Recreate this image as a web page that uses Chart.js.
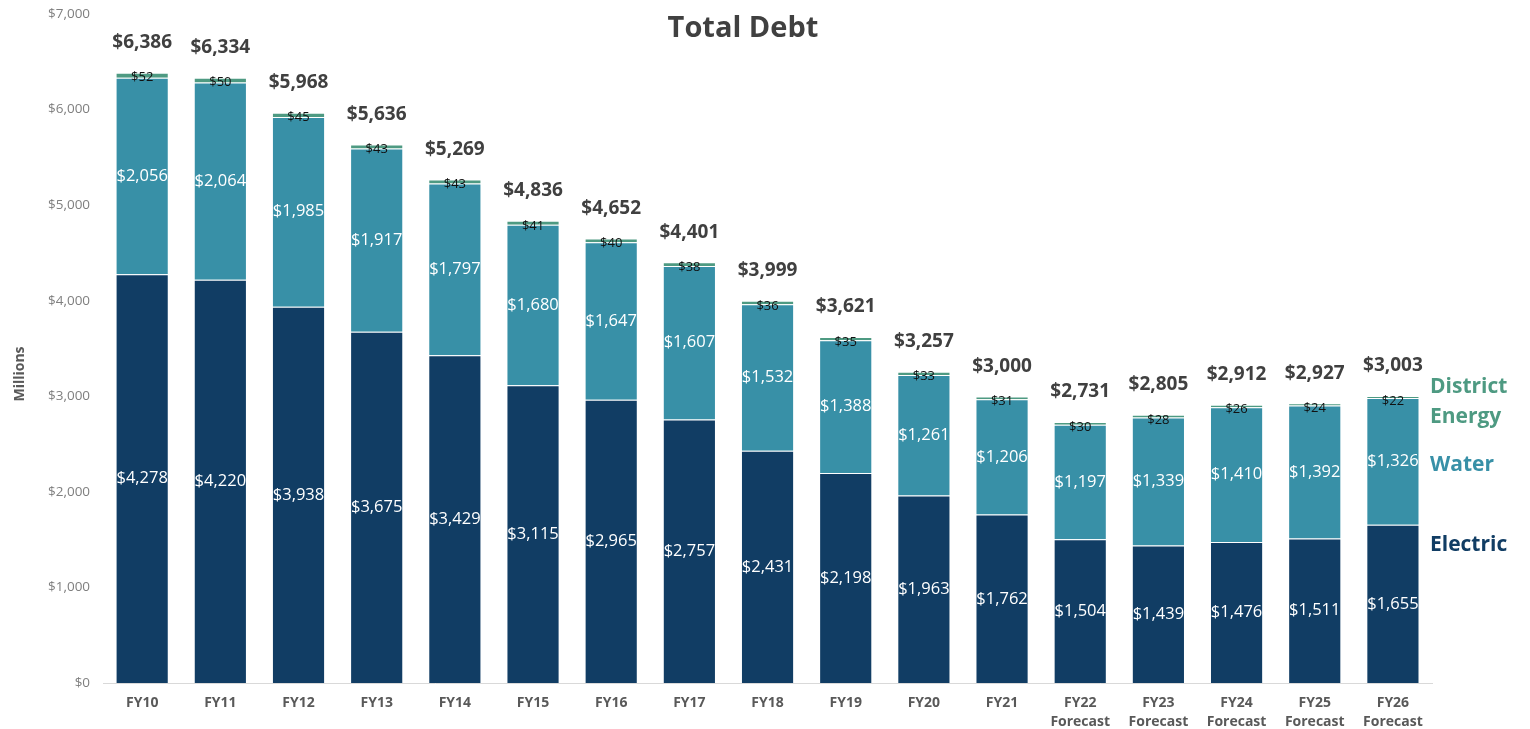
<!DOCTYPE html>
<html>
<head>
<meta charset="utf-8">
<script src="https://cdn.jsdelivr.net/npm/chart.js@4"></script>
<style>
  html, body { margin: 0; padding: 0; background: #fff; }
  #wrap { width: 1530px; height: 729px; }
</style>
</head>
<body>
<div id="wrap"><canvas id="debtChart" width="1530" height="729"></canvas></div>
<script>
var years = ['FY10', 'FY11', 'FY12', 'FY13', 'FY14', 'FY15', 'FY16', 'FY17', 'FY18', 'FY19', 'FY20', 'FY21',
  ['FY22', 'Forecast'], ['FY23', 'Forecast'], ['FY24', 'Forecast'], ['FY25', 'Forecast'], ['FY26', 'Forecast']];
var electric = [4278, 4220, 3938, 3675, 3429, 3115, 2965, 2757, 2431, 2198, 1963, 1762, 1504, 1439, 1476, 1511, 1655];
var water = [2056, 2064, 1985, 1917, 1797, 1680, 1647, 1607, 1532, 1388, 1261, 1206, 1197, 1339, 1410, 1392, 1326];
var districtEnergy = [52, 50, 45, 43, 43, 41, 40, 38, 36, 35, 33, 31, 30, 28, 26, 24, 22];
var totals = [6386, 6334, 5968, 5636, 5269, 4836, 4652, 4401, 3999, 3621, 3257, 3000, 2731, 2805, 2912, 2927, 3003];
var yTicks = [0, 1000, 2000, 3000, 4000, 5000, 6000, 7000];

var FONT = '"Open Sans", "DejaVu Sans", sans-serif';
var colElectric = '#113d64';
var colWater = '#3890a7';
var colDistrict = '#4e9a82';

function money(v) {
  return '$' + v.toLocaleString('en-US');
}

// draws the numbers on the bars, the totals, the title, axis title and the side legend
const labelPlugin = {
  id: 'labelPlugin',
  afterDatasetsDraw(chart) {
    const ctx = chart.ctx;
    ctx.save();
    ctx.textAlign = 'center';
    ctx.textBaseline = 'middle';

    [0, 1].forEach(function (di) {
      const meta = chart.getDatasetMeta(di);
      const vals = chart.data.datasets[di].data;
      ctx.fillStyle = '#ffffff';
      ctx.font = '16.5px ' + FONT;
      meta.data.forEach(function (bar, i) {
        ctx.fillText(money(vals[i]), bar.x, (bar.y + bar.base) / 2);
      });
    });

    const dMeta = chart.getDatasetMeta(2);
    ctx.fillStyle = '#111111';
    ctx.font = '13px ' + FONT;
    dMeta.data.forEach(function (bar, i) {
      ctx.fillText(money(districtEnergy[i]), bar.x, bar.y + 5);
    });

    ctx.fillStyle = '#404040';
    ctx.font = 'bold 19px ' + FONT;
    dMeta.data.forEach(function (bar, i) {
      ctx.fillText(money(totals[i]), bar.x, bar.y - 30);
    });

    ctx.font = 'bold 29px ' + FONT;
    ctx.fillText('Total Debt', 743, 29);

    // y axis title
    ctx.save();
    ctx.translate(20, 374);
    ctx.rotate(-Math.PI / 2);
    ctx.fillStyle = '#595959';
    ctx.font = 'bold 14px ' + FONT;
    ctx.fillText('Millions', 0, 0);
    ctx.restore();

    ctx.textAlign = 'left';
    ctx.font = 'bold 21px ' + FONT;
    ctx.fillStyle = colDistrict;
    ctx.fillText('District', 1430, 387);
    ctx.fillText('Energy', 1430, 417);
    ctx.fillStyle = colWater;
    ctx.fillText('Water', 1430, 465);
    ctx.fillStyle = colElectric;
    ctx.fillText('Electric', 1430, 545);
    ctx.restore();
  }
};

const ctx = document.getElementById('debtChart').getContext('2d');
const chartDebt = new Chart(ctx, {
  type: 'bar',
  data: {
    labels: years,
    datasets: [{
      label: 'Electric',
      data: electric,
      backgroundColor: colElectric,
      borderColor: 'rgba(255,255,255,0.3)',
      borderWidth: 1
    }, {
      label: 'Water',
      data: water,
      backgroundColor: colWater,
      borderColor: 'rgba(255,255,255,0.3)',
      borderWidth: 1
    }, {
      label: 'District Energy',
      data: districtEnergy,
      backgroundColor: colDistrict,
      borderColor: 'rgba(255,255,255,0.3)',
      borderWidth: 1
    }]
  },
  options: {
    responsive: false,
    animation: false,
    categoryPercentage: 1,
    barPercentage: 0.68,
    layout: { padding: { top: 0, right: 98, bottom: 0, left: 35 } },
    plugins: {
      legend: { display: false },
      tooltip: { enabled: false },
      title: { display: false }
    },
    scales: {
      x: {
        stacked: true,
        grid: { display: false, drawTicks: false },
        border: { color: '#d9d9d9', width: 1 },
        afterFit: function (axis) { axis.height = 46; },
        ticks: {
          color: '#595959',
          font: { family: FONT, size: 14, weight: 'bold', lineHeight: 1.4 },
          padding: 10,
          maxRotation: 0,
          autoSkip: false
        }
      },
      y: {
        stacked: true,
        min: 0,
        max: 7000,
        afterBuildTicks: function (axis) {
          axis.ticks = yTicks.map(function (v) { return { value: v }; });
        },
        afterFit: function (axis) { axis.paddingTop = 14; },
        grid: { display: false, drawTicks: false },
        border: { display: false },
        ticks: {
          color: '#7f7f7f',
          font: { family: FONT, size: 13.5 },
          padding: 13,
          callback: function (v) { return money(v); }
        }
      }
    }
  },
  plugins: [labelPlugin]
});
</script>
</body>
</html>
